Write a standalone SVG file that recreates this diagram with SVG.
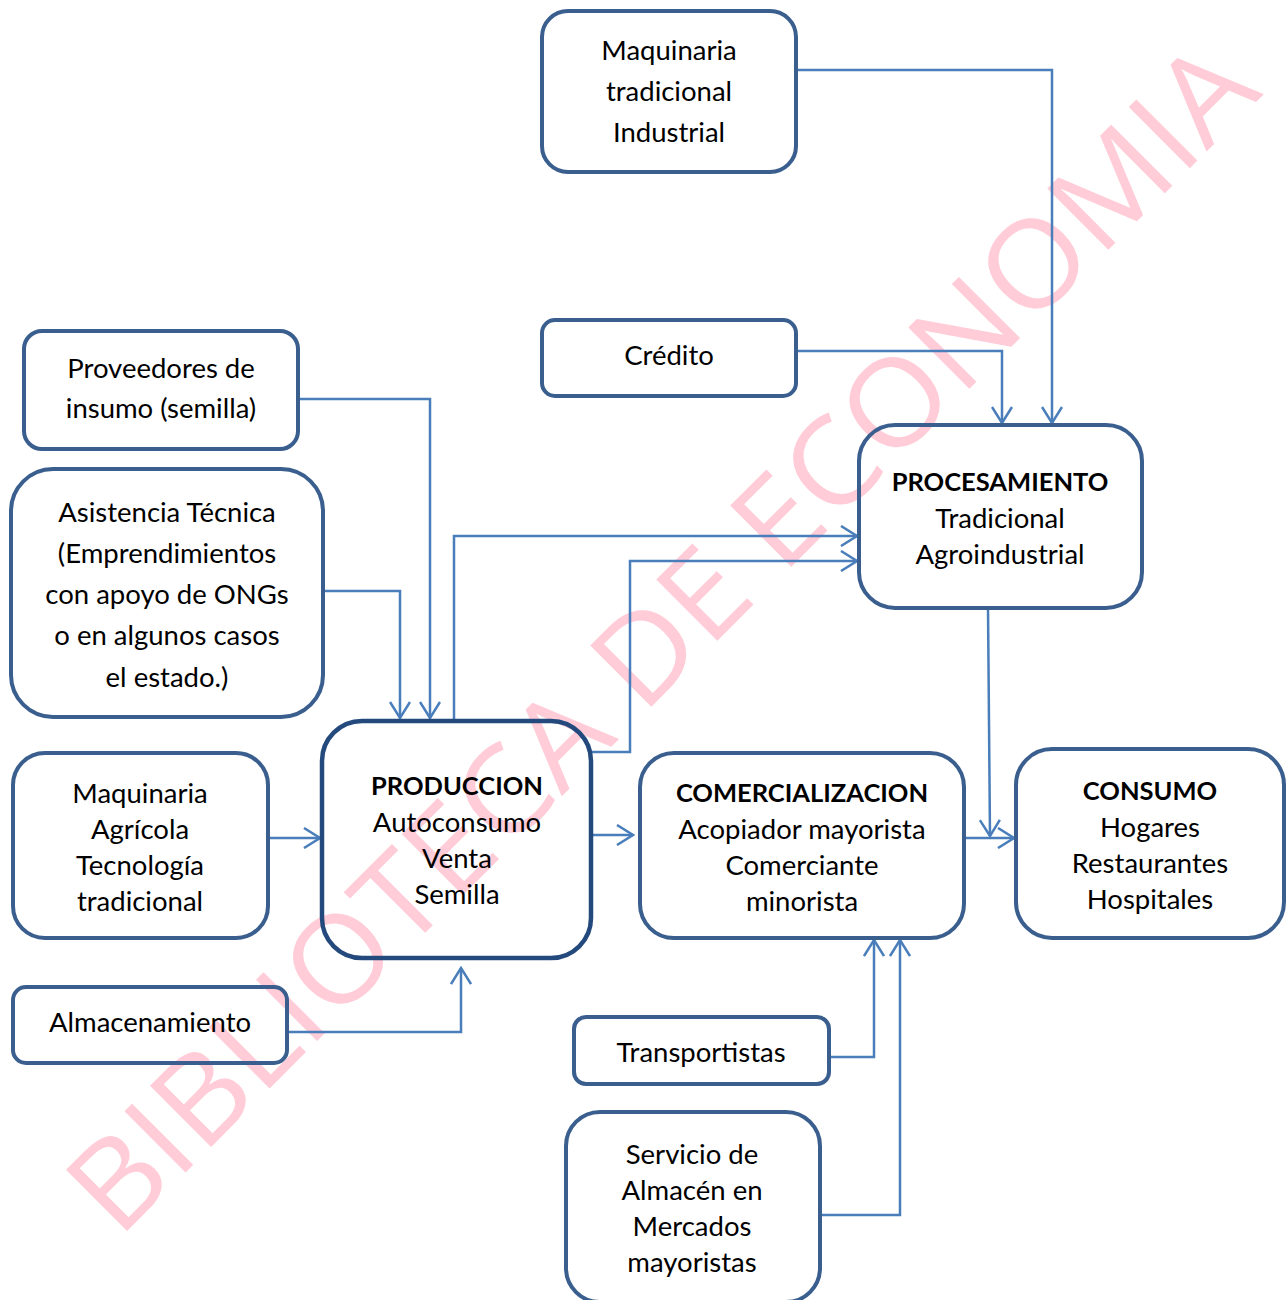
<svg xmlns="http://www.w3.org/2000/svg" width="1288" height="1300" viewBox="0 0 1288 1300">
<defs>
<style>
.box{fill:none;stroke:#3A5F8E;stroke-width:4}
.main{fill:none;stroke:#244A7D;stroke-width:4.5}
.t{font-family:Lato,"Liberation Sans",sans-serif;font-size:27.5px;fill:#000;text-anchor:middle}
.b{font-weight:bold;font-size:25.5px}
.c{fill:none;stroke:#4A7EBB;stroke-width:2.5;marker-end:url(#ah)}
.wm{font-family:"Open Sans","Liberation Sans",sans-serif;font-size:121px;fill:#FFCCD8;text-anchor:middle}
</style>
<marker id="ah" markerUnits="userSpaceOnUse" viewBox="-1 -1 19 22" markerWidth="19" markerHeight="22" refX="16" refY="10" orient="auto">
<path d="M0,0 L16,10 L0,20" fill="none" stroke="#4A7EBB" stroke-width="2.5"/>
</marker>
</defs>
<rect width="1288" height="1300" fill="#fff"/>

<g id="watermark">
<text class="wm" x="0" y="0" transform="translate(691,667) rotate(-45)" textLength="1620" lengthAdjust="spacingAndGlyphs">BIBLIOTECA DE ECONOMIA</text>
</g>

<g id="connectors">
<path class="c" d="M796,70 H1052 V423"/>
<path class="c" d="M796,351 H1002 V423"/>
<path class="c" d="M298,399 H430 V718"/>
<path class="c" d="M323,591 H400 V718"/>
<path class="c" d="M454,721 V536 H857"/>
<path class="c" d="M591,752 H630 V561 H857"/>
<path class="c" d="M268,838 H320"/>
<path class="c" d="M591,835 H633"/>
<path class="c" d="M964,838 H1014"/>
<path class="c" d="M988,608 L990,836"/>
<path class="c" d="M287,1032 H461 V968"/>
<path class="c" d="M829,1057 H874 V940"/>
<path class="c" d="M820,1215 H900 V940"/>
</g>

<g id="n-maq-ind">
<rect class="box" x="542" y="11" width="254" height="161" rx="26"/>
<text class="t" x="669" y="60">Maquinaria</text>
<text class="t" x="669" y="101">tradicional</text>
<text class="t" x="669" y="142">Industrial</text>
</g>
<g id="n-credito">
<rect class="box" x="542" y="320" width="254" height="76" rx="13"/>
<text class="t" x="669" y="365">Crédito</text>
</g>
<g id="n-proveedores">
<rect class="box" x="24" y="331" width="274" height="118" rx="18"/>
<text class="t" x="161" y="378">Proveedores de</text>
<text class="t" x="161" y="418">insumo (semilla)</text>
</g>
<g id="n-asistencia">
<rect class="box" x="11" y="469" width="312" height="248" rx="42"/>
<text class="t" x="167" y="522">Asistencia Técnica</text>
<text class="t" x="167" y="563">(Emprendimientos</text>
<text class="t" x="167" y="604">con apoyo de ONGs</text>
<text class="t" x="167" y="645">o en algunos casos</text>
<text class="t" x="167" y="687">el estado.)</text>
</g>
<g id="n-procesamiento">
<rect class="box" x="859" y="425" width="283" height="183" rx="36"/>
<text class="t b" x="1000" y="491">PROCESAMIENTO</text>
<text class="t" x="1000" y="528">Tradicional</text>
<text class="t" x="1000" y="564">Agroindustrial</text>
</g>
<g id="n-produccion">
<rect class="main" x="322" y="721" width="269" height="237" rx="40"/>
<text class="t b" x="457" y="795">PRODUCCION</text>
<text class="t" x="457" y="832">Autoconsumo</text>
<text class="t" x="457" y="868">Venta</text>
<text class="t" x="457" y="904">Semilla</text>
</g>
<g id="n-maq-agr">
<rect class="box" x="13" y="753" width="255" height="185" rx="32"/>
<text class="t" x="140" y="803">Maquinaria</text>
<text class="t" x="140" y="839">Agrícola</text>
<text class="t" x="140" y="875">Tecnología</text>
<text class="t" x="140" y="911">tradicional</text>
</g>
<g id="n-comercializacion">
<rect class="box" x="640" y="753" width="324" height="185" rx="34"/>
<text class="t b" x="802" y="802">COMERCIALIZACION</text>
<text class="t" x="802" y="839">Acopiador mayorista</text>
<text class="t" x="802" y="875">Comerciante</text>
<text class="t" x="802" y="911">minorista</text>
</g>
<g id="n-consumo">
<rect class="box" x="1016" y="749" width="268" height="189" rx="36"/>
<text class="t b" x="1150" y="800">CONSUMO</text>
<text class="t" x="1150" y="837">Hogares</text>
<text class="t" x="1150" y="873">Restaurantes</text>
<text class="t" x="1150" y="909">Hospitales</text>
</g>
<g id="n-almacenamiento">
<rect class="box" x="13" y="987" width="274" height="76" rx="13"/>
<text class="t" x="150" y="1032">Almacenamiento</text>
</g>
<g id="n-transportistas">
<rect class="box" x="574" y="1017" width="255" height="67" rx="12"/>
<text class="t" x="701" y="1062">Transportistas</text>
</g>
<g id="n-servicio">
<rect class="box" x="566" y="1112" width="254" height="190" rx="34"/>
<text class="t" x="692" y="1164">Servicio de</text>
<text class="t" x="692" y="1200">Almacén en</text>
<text class="t" x="692" y="1236">Mercados</text>
<text class="t" x="692" y="1272">mayoristas</text>
</g>
</svg>
